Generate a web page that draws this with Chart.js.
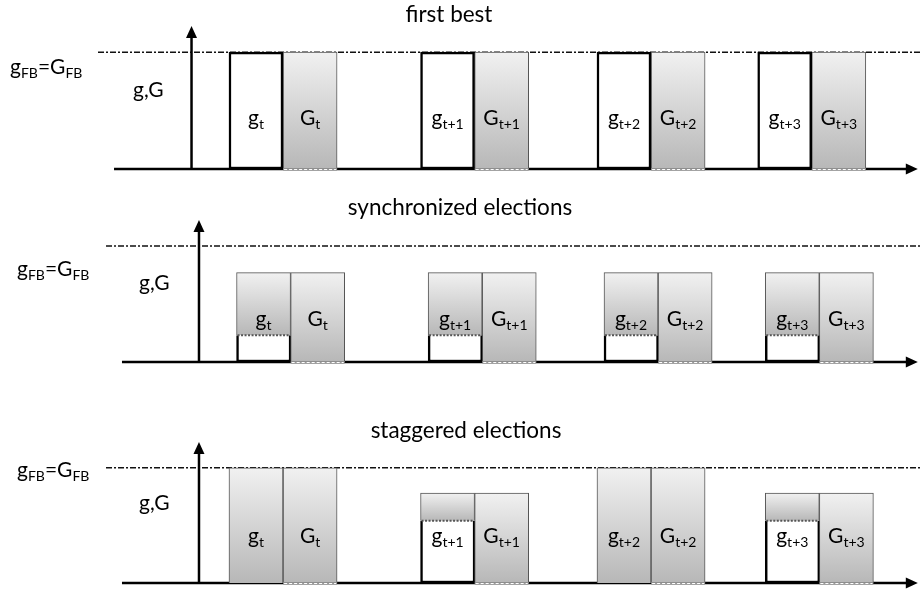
<!DOCTYPE html>
<html>
<head>
<meta charset="utf-8">
<script src="https://cdn.jsdelivr.net/npm/chart.js@4.4.1/dist/chart.umd.min.js"></script>
<style>
html,body{margin:0;padding:0;background:#fff;}
#wrap{position:relative;width:920px;height:594px;overflow:hidden;}
.panel{position:absolute;left:0;width:920px;}
canvas{display:block;}
</style>
</head>
<body>
<div id="wrap">
  <div class="panel" style="top:0;height:190px"><canvas id="c1" width="920" height="190"></canvas></div>
  <div class="panel" style="top:190px;height:200px"><canvas id="c2" width="920" height="200"></canvas></div>
  <div class="panel" style="top:390px;height:204px"><canvas id="c3" width="920" height="204"></canvas></div>
</div>
<script>
// ---------- data ----------
const periods = ['t', 't+1', 't+2', 't+3'];
const titles = ['first best', 'synchronized elections', 'staggered elections'];
const fbLevel = 1;                       // g_FB = G_FB
// first best
const firstBestOwn   = [1, 1, 1, 1];     // white part of g
const firstBestTotal = [1, 1, 1, 1];     // top of g column
const firstBestG     = [1, 1, 1, 1];
const firstBestTime  = [4.73, 8.27, 11.53, 14.50];
// synchronized elections
const syncOwn   = [0.23, 0.23, 0.23, 0.23];
const syncTotal = [0.77, 0.77, 0.77, 0.77];
const syncG     = [0.77, 0.77, 0.77, 0.77];
const syncTime  = [4.87, 8.41, 11.66, 14.64];
// staggered elections
const stagOwn   = [0, 0.54, 0, 0.54];
const stagTotal = [1, 0.78, 1, 0.78];
const stagG     = [1, 0.78, 1, 0.78];
const stagTime  = [4.73, 8.27, 11.53, 14.64];

// ---------- layout / style ----------
const FONT = 'Lato, "Open Sans", "DejaVu Sans", sans-serif';
const MAIN = 21, SUB = 14, TITLE = 22.5;
const X_MAX = 17, Y_MAX = 1.224;

const panels = [
  {id:'c1', title:titles[0], own:firstBestOwn, total:firstBestTotal, G:firstBestG, time:firstBestTime,
   pad:{top:26,bottom:21}, axisX:3.539, lineStart:2.107, dashStart:1.811,
   titleX:449, titleY:22, fbX:10, fbY:74, gGX:133, gGY:97, labelLevel:0.38, fullBorder:true},
  {id:'c2', title:titles[1], own:syncOwn, total:syncTotal, G:syncG, time:syncTime,
   pad:{top:30,bottom:28}, axisX:3.677, lineStart:2.254, dashStart:1.959,
   titleX:460, titleY:25, fbX:17, fbY:86, gGX:139, gGY:100, labelLevel:0.31, fullBorder:false},
  {id:'c3', title:titles[2], own:stagOwn, total:stagTotal, G:stagG, time:stagTime,
   pad:{top:52,bottom:11}, axisX:3.677, lineStart:2.254, dashStart:1.959,
   titleX:466, titleY:48, fbX:17, fbY:87, gGX:139, gGY:120, labelLevel:0.35, fullBorder:false}
];

function grayGradient(c) {
  const chart = c.chart;
  const raw = c.raw;
  if (!chart.chartArea || !raw || !chart.scales.y) return '#d6d6d6';
  const ys = chart.scales.y;
  const top = ys.getPixelForValue(Math.max(raw.y[0], raw.y[1]));
  const bot = ys.getPixelForValue(Math.min(raw.y[0], raw.y[1]));
  if (!isFinite(top) || !isFinite(bot) || top === bot) return '#d6d6d6';
  const g = chart.ctx.createLinearGradient(0, top, 0, bot);
  g.addColorStop(0, '#f1f1f1');
  g.addColorStop(1, '#b7b7b7');
  return g;
}

function drawParts(ctx, parts, x, y, align) {
  const widths = parts.map(([t, s]) => { ctx.font = (s ? SUB : MAIN) + 'px ' + FONT; return ctx.measureText(t).width; });
  const total = widths.reduce((a, b) => a + b, 0);
  let cx = align === 'center' ? x - total / 2 : x;
  ctx.textAlign = 'left';
  ctx.textBaseline = 'alphabetic';
  ctx.fillStyle = '#000';
  parts.forEach(([t, s], i) => {
    ctx.font = (s ? SUB : MAIN) + 'px ' + FONT;
    ctx.fillText(t, cx, s ? y + 4 : y);
    cx += widths[i];
  });
}

const diagramPlugin = {
  id: 'diagram',
  beforeDatasetsDraw(chart) {
    const p = chart.options.plugins.diagram.panel;
    const ctx = chart.ctx, xs = chart.scales.x, ys = chart.scales.y;
    const base = ys.getPixelForValue(0);
    ctx.save();
    // first-best dash-dot line
    const fy = ys.getPixelForValue(fbLevel);
    ctx.strokeStyle = '#111';
    ctx.lineWidth = 1.5;
    ctx.setLineDash([6, 2, 2, 2]);
    ctx.beginPath();
    ctx.moveTo(xs.getPixelForValue(p.dashStart), fy);
    ctx.lineTo(chart.width, fy);
    ctx.stroke();
    ctx.setLineDash([]);
    // time axis with arrow
    ctx.strokeStyle = '#000';
    ctx.fillStyle = '#000';
    ctx.lineWidth = 2.5;
    const tip = xs.getPixelForValue(16.96);
    ctx.beginPath();
    ctx.moveTo(xs.getPixelForValue(p.lineStart), base);
    ctx.lineTo(tip - 8, base);
    ctx.stroke();
    ctx.beginPath();
    ctx.moveTo(tip, base);
    ctx.lineTo(tip - 12, base - 5.5);
    ctx.lineTo(tip - 12, base + 5.5);
    ctx.closePath();
    ctx.fill();
    // value axis with arrow
    const ax = xs.getPixelForValue(p.axisX);
    const top = chart.chartArea.top;
    ctx.beginPath();
    ctx.moveTo(ax, base + 1);
    ctx.lineTo(ax, top + 8);
    ctx.stroke();
    ctx.beginPath();
    ctx.moveTo(ax, top);
    ctx.lineTo(ax - 5.5, top + 12);
    ctx.lineTo(ax + 5.5, top + 12);
    ctx.closePath();
    ctx.fill();
    ctx.restore();
  },
  afterDatasetsDraw(chart) {
    const p = chart.options.plugins.diagram.panel;
    const ctx = chart.ctx, xs = chart.scales.x, ys = chart.scales.y;
    const base = ys.getPixelForValue(0);
    ctx.save();
    // dashed bottoms of G bars
    chart.getDatasetMeta(2).data.forEach(el => {
      const l = el.x - el.width / 2, r = el.x + el.width / 2;
      ctx.strokeStyle = '#9a9a9a';
      ctx.lineWidth = 2.5;
      ctx.beginPath(); ctx.moveTo(l, base + 0.5); ctx.lineTo(r, base + 0.5); ctx.stroke();
      ctx.strokeStyle = '#fff';
      ctx.lineWidth = 1.2;
      ctx.setLineDash([3, 2]);
      ctx.beginPath(); ctx.moveTo(l + 1, base + 0.5); ctx.lineTo(r - 1, base + 0.5); ctx.stroke();
      ctx.setLineDash([]);
    });
    // dotted boundary between own (white) part and the gray part of g
    if (!p.fullBorder) {
      p.time.forEach((t, i) => {
        if (p.own[i] > 0 && p.total[i] > p.own[i]) {
          const cx = xs.getPixelForValue(t);
          const y = ys.getPixelForValue(p.own[i]);
          ctx.strokeStyle = '#555';
          ctx.lineWidth = 2;
          ctx.setLineDash([2, 1.5]);
          ctx.beginPath(); ctx.moveTo(cx - 26, y); ctx.lineTo(cx + 26, y); ctx.stroke();
          ctx.setLineDash([]);
        }
      });
    }
    // bar labels
    const ly = ys.getPixelForValue(p.labelLevel);
    p.time.forEach((t, i) => {
      drawParts(ctx, [['g', false], [periods[i], true]], xs.getPixelForValue(t), ly, 'center');
      drawParts(ctx, [['G', false], [periods[i], true]], xs.getPixelForValue(t + 1), ly, 'center');
    });
    // title and axis labels
    ctx.font = TITLE + 'px ' + FONT;
    ctx.fillStyle = '#000';
    ctx.textAlign = 'center';
    ctx.textBaseline = 'alphabetic';
    ctx.fillText(p.title, p.titleX, p.titleY);
    drawParts(ctx, [['g', false], ['FB', true], ['=G', false], ['FB', true]], p.fbX, p.fbY, 'left');
    drawParts(ctx, [['g,G', false]], p.gGX, p.gGY, 'left');
    ctx.restore();
  }
};

panels.forEach(p => {
  const ownData = p.time.map((t, i) => p.own[i] > 0 ? {x: t, y: [0, p.own[i]]} : null).filter(Boolean);
  const grayData = p.time.map((t, i) => p.total[i] > p.own[i] ? {x: t, y: [p.own[i], p.total[i]]} : null).filter(Boolean);
  const GData = p.time.map((t, i) => ({x: t + 1, y: [0, p.G[i]]}));
  new Chart(document.getElementById(p.id), {
    type: 'bar',
    data: {
      datasets: [
        {label: 'g own', data: ownData, backgroundColor: '#ffffff', borderColor: '#000',
         borderWidth: p.fullBorder ? 2.5 : {left: 2.5, right: 2, bottom: 2.5, top: 0},
         borderSkipped: false, grouped: false, barThickness: 54},
        {label: 'g', data: grayData, backgroundColor: grayGradient, borderColor: '#555',
         borderWidth: 1, borderSkipped: 'bottom', grouped: false, barThickness: 54},
        {label: 'G', data: GData, backgroundColor: grayGradient, borderColor: '#555',
         borderWidth: 1, borderSkipped: false, grouped: false, barThickness: 54}
      ]
    },
    options: {
      responsive: false,
      devicePixelRatio: 1,
      animation: false,
      layout: {padding: {top: p.pad.top, bottom: p.pad.bottom, left: 0, right: 0}},
      scales: {
        x: {type: 'linear', min: 0, max: X_MAX, offset: false, display: false},
        y: {type: 'linear', min: 0, max: Y_MAX, display: false}
      },
      plugins: {
        legend: {display: false},
        tooltip: {enabled: false},
        diagram: {panel: p}
      }
    },
    plugins: [diagramPlugin]
  });
});
</script>
</body>
</html>
